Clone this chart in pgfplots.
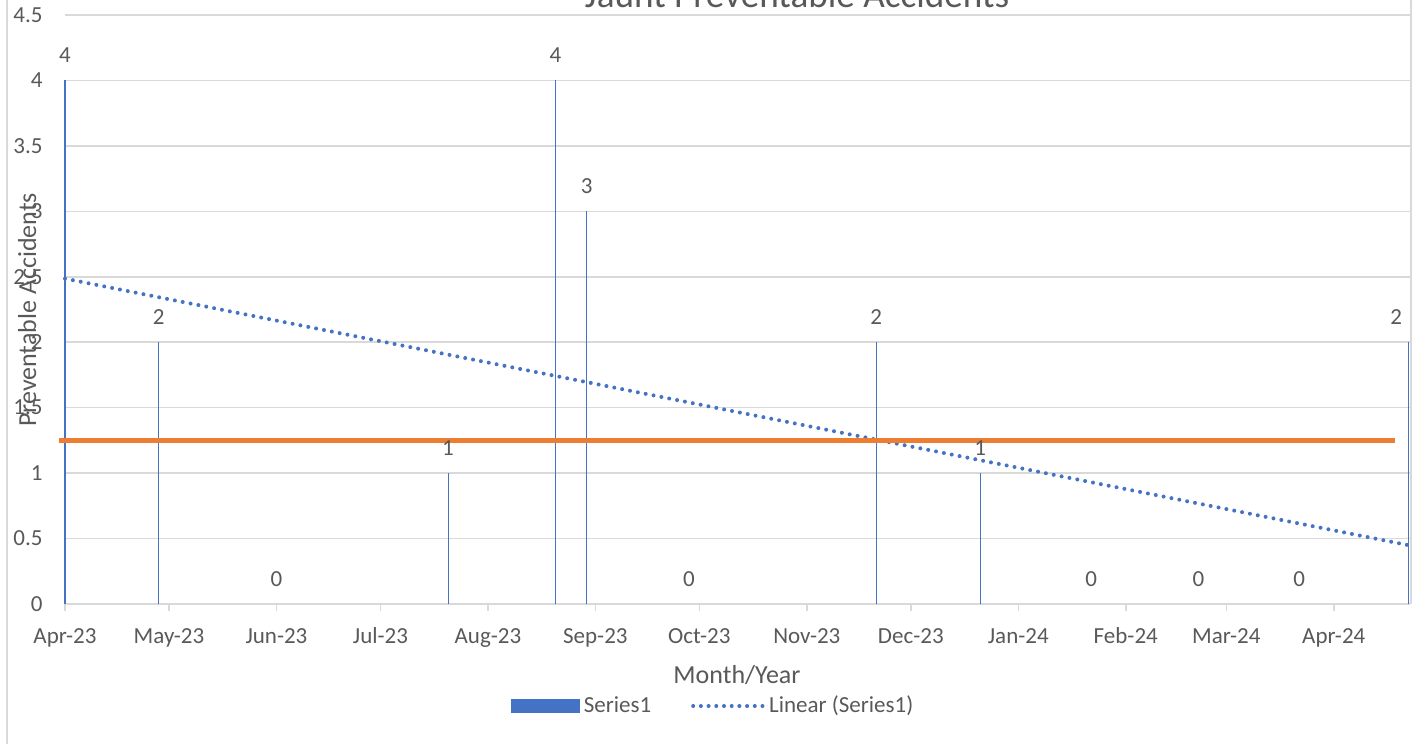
\documentclass[border=0pt]{standalone}
\usepackage{pgfplots}
\pgfplotsset{compat=1.18}
\usepackage{fontspec}
\setmainfont{Carlito}
\definecolor{xblue}{HTML}{4472C4}
\definecolor{xorange}{HTML}{ED7D31}
\definecolor{xgrid}{HTML}{D9D9D9}
\definecolor{xtext}{HTML}{595959}
\newcommand{\tickfont}{\fontsize{11.5}{13.8}\selectfont}
\begin{document}
\begin{tikzpicture}
\begin{axis}[
  at={(32.5pt,70pt)}, anchor=south west,
  scale only axis, width=672.5pt, height=294.5pt,
  xmin=0, xmax=388, ymin=0, ymax=4.5,
  clip=false,
  axis line style={draw=none},
  ymajorgrids, grid style={xgrid, line width=0.75pt},
  ytick={0,0.5,...,4.5},
  yticklabels={0,0.5,1,1.5,2,2.5,3,3.5,4,4.5},
  xtick={0,30,61,91,122,153,183,214,244,275,306,335,366},
  xticklabels={Apr-23,May-23,Jun-23,Jul-23,Aug-23,Sep-23,Oct-23,Nov-23,Dec-23,Jan-24,Feb-24,Mar-24,Apr-24},
  xtick pos=bottom, tick align=outside, major tick length=3.5pt,
  xtick style={draw=xgrid, line width=0.75pt},
  ytick style={draw=none},
  ytick pos=left,
  tick label style={font=\tickfont, text=xtext},
  xticklabel style={anchor=base, yshift=-16pt},
  yticklabel style={anchor=east, inner sep=0pt, xshift=-7.5pt},
  /pgf/number format/assume math mode=true,
  legend columns=2,
  legend style={draw=none, fill=none, at={(axis description cs:0.4825,-0.1732)}, anchor=center,
    font=\tickfont, text=xtext, /tikz/every even column/.append style={column sep=18pt}},
  legend cell align=left,
]
\addplot[ycomb, draw=xblue, line width=0.55pt,
  nodes near coords,
  every node near coord/.append style={anchor=base, yshift=9pt, font=\tickfont, text=xtext},
  legend image code/.code={\fill[xblue] (0pt,-3.4pt) rectangle (34pt,3.4pt);}]
  coordinates {(0,4) (27,2) (61,0) (110.5,1) (141.5,4) (150.5,3) (180,0) (234,2) (264,1) (296,0) (327,0) (356,0)};
\addlegendentry{Series1}
\addplot[ycomb, draw=xblue, line width=0.55pt, forget plot,
  nodes near coords,
  every node near coord/.append style={anchor=base, yshift=9pt, xshift=-6pt, font=\tickfont, text=xtext}]
  coordinates {(387.5,2)};
\addplot[draw=xblue, line width=2pt, line cap=round, dash pattern=on 0pt off 4pt,
  legend image code/.code={\draw[xblue, line width=2pt, line cap=round, dash pattern=on 0pt off 3.85pt] (0pt,0pt) -- (35pt,0pt);}]
  coordinates {(0,2.486) (388,0.447)};
\addlegendentry{Linear (Series1)}
\addplot[draw=xorange, line width=2.3pt, forget plot] coordinates {(-1.7,1.25) (383.6,1.25)};
\end{axis}
\draw[xgrid, line width=0.75pt] (3.5pt,0pt) -- (3.5pt,372pt);
\draw[xgrid, line width=0.75pt] (705.5pt,70pt) -- (705.5pt,372pt);
\node[font=\fontsize{13}{15.6}\selectfont, text=xtext, anchor=base] at (368.5pt,30.5pt) {Month/Year};
\node[font=\fontsize{13}{15.6}\selectfont, text=xtext, anchor=base, rotate=90] at (18pt,217pt) {Preventable Accidents};
\node[font=\fontsize{18.6}{22}\selectfont, text=xtext, anchor=base] at (398.5pt,368pt) {Jaunt Preventable Accidents};
\pgfresetboundingbox
\useasboundingbox (0pt,0pt) rectangle (708.5pt,372pt);
\end{tikzpicture}
\end{document}
